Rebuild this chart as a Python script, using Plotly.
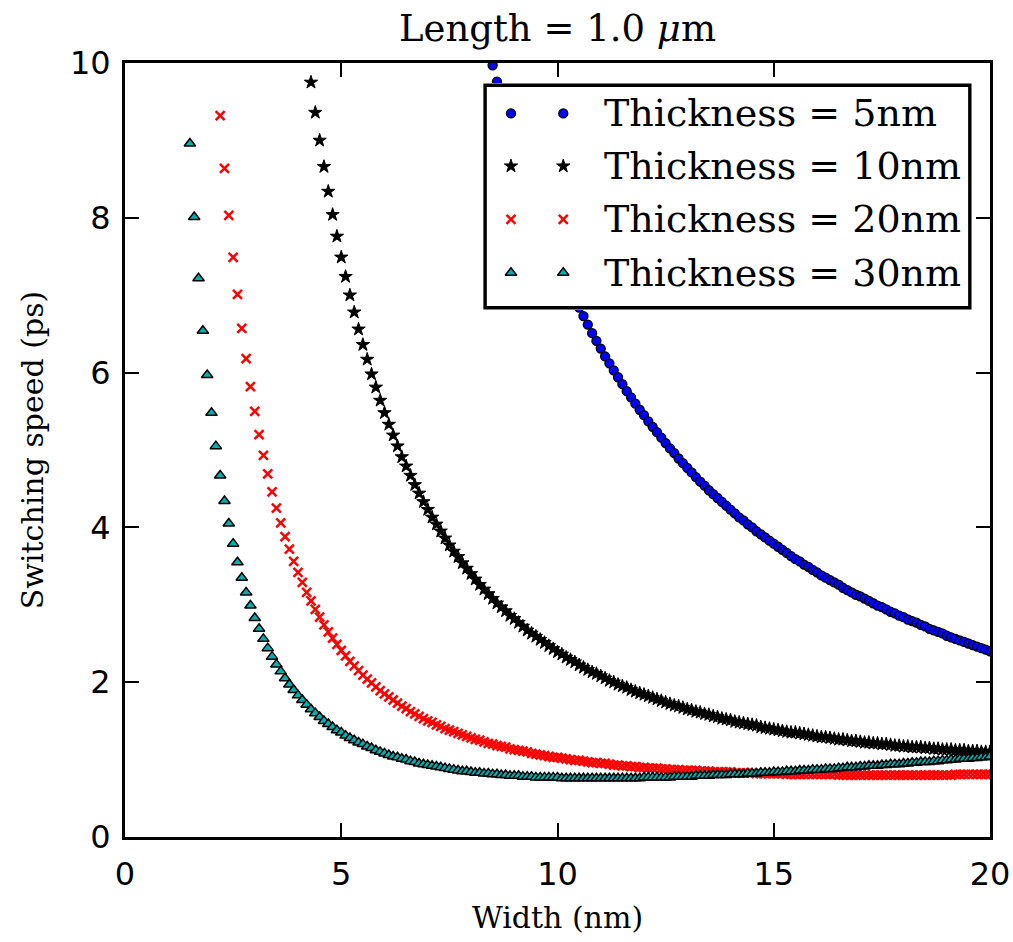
import plotly.graph_objects as go

# Width grid (nm), sampled every 0.1 nm from 1.5 to 20.0
width_nm = [round(k / 10, 1) for k in range(15, 201)]

# Switching speed (ps) for each gate thickness; each series ends at 20 nm
speed_5nm = [
    9.97, 9.76, 9.56, 9.36, 9.17, 8.99, 8.81, 8.64, 8.47, 8.31,
    8.16, 8.00, 7.86, 7.72, 7.58, 7.45, 7.32, 7.19, 7.07, 6.95,
    6.84, 6.73, 6.62, 6.51, 6.41, 6.31, 6.21, 6.12, 6.03, 5.94,
    5.85, 5.76, 5.68, 5.60, 5.52, 5.45, 5.37, 5.30, 5.23, 5.16,
    5.09, 5.02, 4.96, 4.89, 4.83, 4.77, 4.71, 4.65, 4.59, 4.54,
    4.48, 4.43, 4.38, 4.33, 4.28, 4.23, 4.18, 4.13, 4.09, 4.04,
    4.00, 3.95, 3.91, 3.87, 3.83, 3.79, 3.75, 3.71, 3.67, 3.63,
    3.59, 3.56, 3.52, 3.49, 3.45, 3.42, 3.38, 3.35, 3.32, 3.29,
    3.26, 3.22, 3.19, 3.16, 3.13, 3.11, 3.08, 3.05, 3.02, 2.99,
    2.97, 2.94, 2.91, 2.89, 2.86, 2.84, 2.81, 2.79, 2.77, 2.74,
    2.72, 2.69, 2.67, 2.65, 2.63, 2.60, 2.58, 2.56, 2.54, 2.52,
    2.50, 2.48, 2.46, 2.44, 2.42, 2.40,
]
speed_10nm = [
    9.75, 9.36, 9.00, 8.66, 8.34, 8.04, 7.76, 7.49, 7.24, 7.00,
    6.78, 6.56, 6.36, 6.17, 5.98, 5.81, 5.64, 5.48, 5.33, 5.19,
    5.05, 4.91, 4.79, 4.67, 4.55, 4.44, 4.33, 4.23, 4.13, 4.04,
    3.95, 3.86, 3.77, 3.69, 3.62, 3.54, 3.47, 3.40, 3.33, 3.26,
    3.20, 3.14, 3.08, 3.02, 2.97, 2.92, 2.86, 2.82, 2.77, 2.72,
    2.67, 2.63, 2.59, 2.55, 2.51, 2.47, 2.43, 2.39, 2.36, 2.32,
    2.29, 2.26, 2.22, 2.19, 2.16, 2.13, 2.11, 2.08, 2.05, 2.02,
    2.00, 1.97, 1.95, 1.93, 1.90, 1.88, 1.86, 1.84, 1.82, 1.80,
    1.78, 1.76, 1.74, 1.72, 1.70, 1.69, 1.67, 1.65, 1.64, 1.62,
    1.61, 1.59, 1.58, 1.56, 1.55, 1.53, 1.52, 1.51, 1.49, 1.48,
    1.47, 1.46, 1.45, 1.44, 1.42, 1.41, 1.40, 1.39, 1.38, 1.37,
    1.36, 1.35, 1.35, 1.34, 1.33, 1.32, 1.31, 1.30, 1.29, 1.29,
    1.28, 1.27, 1.26, 1.26, 1.25, 1.24, 1.24, 1.23, 1.22, 1.22,
    1.21, 1.21, 1.20, 1.20, 1.19, 1.18, 1.18, 1.17, 1.17, 1.16,
    1.16, 1.16, 1.15, 1.15, 1.14, 1.14, 1.13, 1.13, 1.13, 1.12,
    1.12, 1.12, 1.11, 1.11, 1.11, 1.10, 1.10, 1.10,
]
speed_20nm = [
    9.32, 8.64, 8.03, 7.49, 7.01, 6.57, 6.18, 5.82, 5.50, 5.20,
    4.93, 4.69, 4.46, 4.25, 4.06, 3.88, 3.72, 3.56, 3.42, 3.29,
    3.16, 3.05, 2.94, 2.84, 2.74, 2.65, 2.57, 2.49, 2.41, 2.34,
    2.27, 2.21, 2.15, 2.09, 2.04, 1.99, 1.94, 1.89, 1.85, 1.81,
    1.77, 1.73, 1.69, 1.66, 1.62, 1.59, 1.56, 1.53, 1.50, 1.48,
    1.45, 1.43, 1.40, 1.38, 1.36, 1.34, 1.32, 1.30, 1.28, 1.26,
    1.25, 1.23, 1.21, 1.20, 1.18, 1.17, 1.16, 1.14, 1.13, 1.12,
    1.11, 1.10, 1.08, 1.07, 1.06, 1.05, 1.04, 1.03, 1.03, 1.02,
    1.01, 1.00, 0.99, 0.99, 0.98, 0.97, 0.96, 0.96, 0.95, 0.95,
    0.94, 0.93, 0.93, 0.92, 0.92, 0.91, 0.91, 0.90, 0.90, 0.89,
    0.89, 0.89, 0.88, 0.88, 0.87, 0.87, 0.87, 0.86, 0.86, 0.86,
    0.86, 0.85, 0.85, 0.85, 0.84, 0.84, 0.84, 0.84, 0.84, 0.83,
    0.83, 0.83, 0.83, 0.83, 0.82, 0.82, 0.82, 0.82, 0.82, 0.82,
    0.82, 0.81, 0.81, 0.81, 0.81, 0.81, 0.81, 0.81, 0.81, 0.81,
    0.81, 0.81, 0.81, 0.80, 0.80, 0.80, 0.80, 0.80, 0.80, 0.80,
    0.80, 0.80, 0.80, 0.80, 0.80, 0.80, 0.80, 0.80, 0.80, 0.80,
    0.80, 0.80, 0.80, 0.80, 0.80, 0.80, 0.80, 0.80, 0.80, 0.80,
    0.81, 0.81, 0.81, 0.81, 0.81, 0.81, 0.81, 0.81, 0.81,
]
speed_30nm = [
    8.96, 8.01, 7.22, 6.54, 5.97, 5.48, 5.05, 4.67, 4.34, 4.05,
    3.79, 3.55, 3.35, 3.16, 2.99, 2.83, 2.69, 2.56, 2.44, 2.33,
    2.23, 2.14, 2.05, 1.97, 1.90, 1.83, 1.77, 1.71, 1.65, 1.60,
    1.55, 1.50, 1.46, 1.42, 1.38, 1.35, 1.31, 1.28, 1.25, 1.22,
    1.20, 1.17, 1.15, 1.12, 1.10, 1.08, 1.06, 1.04, 1.03, 1.01,
    1.00, 0.98, 0.97, 0.95, 0.94, 0.93, 0.92, 0.91, 0.90, 0.89,
    0.88, 0.87, 0.86, 0.85, 0.85, 0.84, 0.83, 0.83, 0.82, 0.82,
    0.81, 0.81, 0.80, 0.80, 0.79, 0.79, 0.79, 0.78, 0.78, 0.78,
    0.77, 0.77, 0.77, 0.77, 0.77, 0.77, 0.76, 0.76, 0.76, 0.76,
    0.76, 0.76, 0.76, 0.76, 0.76, 0.76, 0.76, 0.76, 0.76, 0.76,
    0.76, 0.76, 0.76, 0.76, 0.76, 0.77, 0.77, 0.77, 0.77, 0.77,
    0.77, 0.77, 0.78, 0.78, 0.78, 0.78, 0.78, 0.79, 0.79, 0.79,
    0.79, 0.80, 0.80, 0.80, 0.80, 0.81, 0.81, 0.81, 0.81, 0.82,
    0.82, 0.82, 0.83, 0.83, 0.83, 0.84, 0.84, 0.84, 0.85, 0.85,
    0.85, 0.86, 0.86, 0.86, 0.87, 0.87, 0.87, 0.88, 0.88, 0.88,
    0.89, 0.89, 0.90, 0.90, 0.90, 0.91, 0.91, 0.92, 0.92, 0.92,
    0.93, 0.93, 0.94, 0.94, 0.94, 0.95, 0.95, 0.96, 0.96, 0.97,
    0.97, 0.97, 0.98, 0.98, 0.99, 0.99, 1.00, 1.00, 1.01, 1.01,
    1.01, 1.02, 1.02, 1.03, 1.03, 1.04,
]

labels = ["Thickness = 5nm", "Thickness = 10nm", "Thickness = 20nm", "Thickness = 30nm"]
speeds = [speed_5nm, speed_10nm, speed_20nm, speed_30nm]

SERIF = "DejaVu Serif"
SANS = "DejaVu Sans"

markers = [
    dict(symbol="circle", size=9, color="#0000ff", line=dict(color="black", width=1.3)),
    dict(symbol="star", size=10, color="black", line=dict(color="black", width=1)),
    dict(symbol="x-thin", size=9, color="#ff0000", line=dict(color="#ff0000", width=2.5)),
    dict(symbol="triangle-up", size=10, color="#00b0b0", line=dict(color="black", width=1.5)),
]

fig = go.Figure()
for name, ys, mk in zip(labels, speeds, markers):
    xs = width_nm[len(width_nm) - len(ys):]
    fig.add_trace(go.Scatter(x=xs, y=ys, mode="markers", marker=mk, name=name,
                             showlegend=False, xaxis="x", yaxis="y"))

# Legend box: a small overlay subplot so each row shows two sample markers
rows = [0.8665, 0.634, 0.3996, 0.164]
for name, mk, ry in zip(labels, markers, rows):
    fig.add_trace(go.Scatter(x=[0.057, 0.164], y=[ry, ry], mode="markers", marker=mk,
                             showlegend=False, hoverinfo="skip", xaxis="x2", yaxis="y2"))
    fig.add_annotation(x=0.243, y=ry, xref="x2", yref="y2", text=name, showarrow=False,
                       xanchor="left", yanchor="middle",
                       font=dict(family=SERIF, size=38, color="black"))

# frame inset slightly so the full border width stays inside the overlay's clip area
fig.add_shape(type="rect", xref="x2", yref="y2", x0=0.004, x1=0.996, y0=0.009, y1=0.991,
              layer="below", fillcolor="white", line=dict(color="black", width=3.5))

axis_common = dict(ticks="inside", ticklen=14, tickwidth=1.5, tickcolor="black",
                   showline=True, linewidth=3, linecolor="black", mirror="ticks",
                   showgrid=False, zeroline=False,
                   tickfont=dict(family=SANS, size=32, color="black"))

fig.update_layout(
    width=1013, height=942,
    margin=dict(l=125, r=23, t=63, b=105, autoexpand=False),
    paper_bgcolor="white", plot_bgcolor="white",
    showlegend=False,
    title=dict(text="Length = 1.0 <i>μ</i>m", x=0.5, xref="paper", xanchor="center",
               y=1 - 28 / 942, yref="container", yanchor="middle",
               font=dict(family=SERIF, size=37, color="black")),
    xaxis=dict(range=[0, 20], tickvals=[0, 5, 10, 15, 20], ticklabelstandoff=7,
               title=dict(text="Width (nm)", standoff=15, font=dict(family=SERIF, size=30, color="black")),
               **axis_common),
    yaxis=dict(range=[0, 10], tickvals=[0, 2, 4, 6, 8, 10], ticklabelstandoff=5,
               title=dict(text="Switching speed (ps)", standoff=18, font=dict(family=SERIF, size=30, color="black")),
               **axis_common),
    xaxis2=dict(domain=[0.414, 0.979], range=[0, 1], visible=False, anchor="y2"),
    yaxis2=dict(domain=[0.681, 0.974], range=[0, 1], visible=False, anchor="x2"),
)

fig.write_html("out.html")
